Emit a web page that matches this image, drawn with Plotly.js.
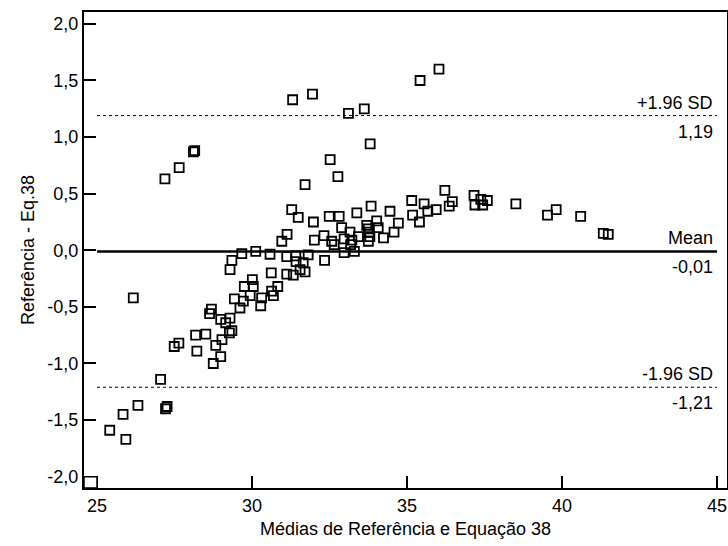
<!DOCTYPE html>
<html>
<head>
<meta charset="utf-8">
<script src="https://cdn.plot.ly/plotly-3.0.1.min.js"></script>
<style>html,body{margin:0;padding:0;background:#fff;}#chart{width:728px;height:546px;}</style>
</head>
<body>
<div id="chart"></div>
<script>
// Means of reference and Eq.38 (x) and differences (y)
const meansX = [
  25.41,25.93,25.84,26.32,27.21,27.26,27.05,26.17,
  28.75,28.99,28.22,28.83,27.49,27.64,29.03,28.18,28.51,29.27,29.35,29.15,28.99,29.29,28.63,28.69,
  29.43,29.61,29.72,30.28,30.31,29.94,30.69,30.63,29.75,30.04,30.83,30.01,30.62,31.12,31.33,31.55,31.71,
  29.29,29.35,31.42,31.65,32.34,29.67,30.12,30.58,31.12,31.41,31.81,32.97,33.30,
  30.96,31.13,32.01,32.32,32.57,32.65,32.97,33.16,33.22,33.18,32.89,33.43,33.70,33.75,33.78,33.80,33.75,
  34.02,34.07,34.24,34.58,34.72,31.28,31.49,31.98,32.49,32.81,33.38,33.84,34.45,35.15,35.18,35.40,35.55,
  35.67,35.94,36.22,36.46,36.36,37.16,37.19,37.44,37.38,37.59,38.51,39.53,39.81,40.60,41.33,41.49,
  31.71,32.77,32.52,33.81,27.19,27.65,28.11,28.15,31.31,31.95,33.11,33.62,35.42,36.03
];
const diffsY = [
  -1.59,-1.67,-1.45,-1.37,-1.40,-1.38,-1.14,-0.42,
  -1.00,-0.94,-0.89,-0.84,-0.85,-0.82,-0.79,-0.75,-0.74,-0.73,-0.71,-0.64,-0.61,-0.60,-0.56,-0.52,
  -0.43,-0.51,-0.45,-0.49,-0.42,-0.40,-0.40,-0.36,-0.32,-0.32,-0.32,-0.26,-0.20,-0.21,-0.22,-0.17,-0.19,
  -0.17,-0.09,-0.10,-0.11,-0.09,-0.03,-0.01,-0.035,-0.056,-0.05,-0.04,-0.02,-0.01,
  0.08,0.14,0.09,0.13,0.08,0.05,0.10,0.16,0.09,0.05,0.20,0.12,0.22,0.19,0.16,0.12,0.08,
  0.26,0.20,0.11,0.16,0.24,0.36,0.29,0.25,0.30,0.30,0.33,0.39,0.345,0.44,0.31,0.25,0.41,
  0.345,0.36,0.53,0.43,0.39,0.485,0.40,0.40,0.45,0.44,0.41,0.31,0.36,0.30,0.15,0.14,
  0.58,0.65,0.80,0.94,0.63,0.73,0.87,0.88,1.33,1.38,1.21,1.25,1.50,1.60
];
const meanDiff = -0.01;
const upperLoA = 1.19;
const lowerLoA = -1.21;
const lineSpan = [25, 45];
const xTicks = [25, 30, 35, 40, 45];
const yTicks = [-2.0, -1.5, -1.0, -0.5, 0.0, 0.5, 1.0, 1.5, 2.0];
const yTickText = ["-2,0", "-1,5", "-1,0", "-0,5", "0,0", "0,5", "1,0", "1,5", "2,0"];
const xRange = [24.58, 45.32];
const yRange = [-2.10, 2.105];
const labelUpper = "+1.96 SD", labelMean = "Mean", labelLower = "-1.96 SD";
const fmt = v => v.toFixed(2).replace('.', ',');

const FONT = "Liberation Sans, Arial, Helvetica, sans-serif";

const traces = [
  {x: lineSpan, y: [meanDiff, meanDiff], mode: 'lines', line: {color: '#000', width: 2.5}, hoverinfo: 'skip'},
  {x: lineSpan, y: [upperLoA, upperLoA], mode: 'lines', line: {color: '#000', width: 1, dash: 'dot'}, hoverinfo: 'skip'},
  {x: lineSpan, y: [lowerLoA, lowerLoA], mode: 'lines', line: {color: '#000', width: 1, dash: 'dot'}, hoverinfo: 'skip'},
  {x: meansX, y: diffsY, mode: 'markers',
   marker: {symbol: 'square-open', size: 9, color: '#000', line: {color: '#000', width: 1.8}}}
];

function ann(y, text, above) {
  return {x: lineSpan[1], y: y, xref: 'x', yref: 'y', text: text, showarrow: false,
    xanchor: 'right', yanchor: above ? 'bottom' : 'top', xshift: -2, yshift: above ? 1 : -4,
    font: {family: FONT, size: 18, color: '#000'}};
}

const layout = {
  width: 728, height: 546,
  margin: {l: 84, r: 1, t: 12, b: 58},
  paper_bgcolor: '#fff', plot_bgcolor: '#fff',
  showlegend: false,
  font: {family: FONT, size: 18, color: '#000'},
  xaxis: {
    range: xRange, tickmode: 'array', tickvals: xTicks, ticktext: xTicks.map(String),
    ticks: 'inside', ticklen: 12, tickwidth: 2, tickcolor: '#000',
    showline: true, linewidth: 2, linecolor: '#000', mirror: true, showgrid: false, zeroline: false,
    tickfont: {family: FONT, size: 18, color: '#000'},
    title: {text: 'Médias de Referência e Equação 38', font: {family: FONT, size: 18, color: '#000'}, standoff: 8}
  },
  yaxis: {
    range: yRange, tickmode: 'array', tickvals: yTicks, ticktext: yTickText,
    ticks: 'inside', ticklen: 12, tickwidth: 2, tickcolor: '#000',
    showline: true, linewidth: 2, linecolor: '#000', mirror: true, showgrid: false, zeroline: false,
    tickfont: {family: FONT, size: 18, color: '#000'},
    title: {text: 'Referência - Eq.38', font: {family: FONT, size: 18, color: '#000'}, standoff: 8}
  },
  shapes: [
    {type: 'rect', xref: 'x', yref: 'y', x0: xRange[0], x1: xTicks[0], y0: yRange[0], y1: yTicks[0],
     line: {color: '#000', width: 1.5}, fillcolor: '#fff', layer: 'above'}
  ],
  annotations: [
    ann(upperLoA, labelUpper, true), ann(upperLoA, fmt(upperLoA), false),
    ann(meanDiff, labelMean, true), ann(meanDiff, fmt(meanDiff), false),
    ann(lowerLoA, labelLower, true), ann(lowerLoA, fmt(lowerLoA), false)
  ]
};

Plotly.newPlot('chart', traces, layout, {displayModeBar: false, staticPlot: true});
</script>
</body>
</html>
